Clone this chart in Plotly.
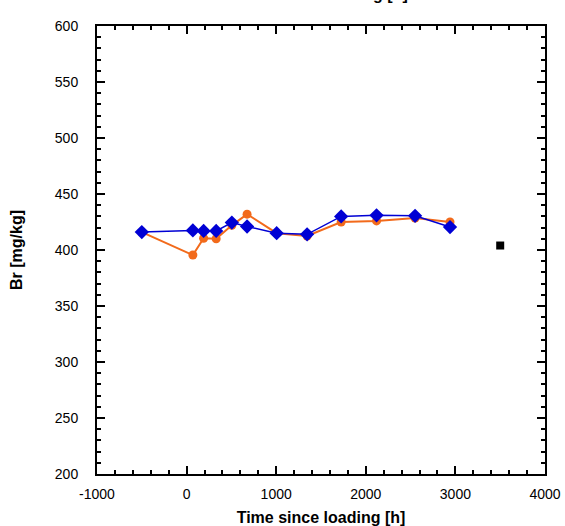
import plotly.graph_objects as go

# Data
blue_x = [-500, 70, 190, 330, 505, 675, 1005, 1345, 1725, 2120, 2550, 2940]
blue_y = [416, 417.5, 417, 417, 424.5, 421, 415, 414, 430, 431, 430.5, 420.5]

orange_x = [-500, 70, 190, 330, 505, 675, 1005, 1345, 1725, 2120, 2550, 2940]
orange_y = [416, 395.5, 410.5, 410, 422, 432, 415, 412.5, 425, 426, 428.5, 425]

black_x = [3500]
black_y = [404]

x_range = [-1000, 4000]
y_range = [200, 600]
x_ticks = [-1000, 0, 1000, 2000, 3000, 4000]
x_ticklabels = ["-1000", "0", "1000", "2000", "3000", "4000"]
x_title = "Time since loading [h]"
y_title = "Br [mg/kg]"

orange = "#F26A1B"
blue = "#0000D4"
FONT = "Liberation Sans, Arial, sans-serif"

fig = go.Figure()
fig.add_trace(go.Scatter(x=orange_x, y=orange_y, mode="lines+markers",
                         line=dict(color=orange, width=2),
                         marker=dict(symbol="circle", size=9, color=orange),
                         showlegend=False))
fig.add_trace(go.Scatter(x=blue_x, y=blue_y, mode="lines+markers",
                         line=dict(color=blue, width=1.5),
                         marker=dict(symbol="diamond", size=11, color=blue),
                         showlegend=False))
fig.add_trace(go.Scatter(x=black_x, y=black_y, mode="markers",
                         marker=dict(symbol="square", size=8, color="black"),
                         showlegend=False))

axis_common = dict(showgrid=False, zeroline=False, showline=True, linecolor="black",
                   linewidth=2, mirror="ticks", ticks="inside", ticklen=8, tickwidth=2,
                   tickcolor="black", automargin=False,
                   tickfont=dict(family=FONT, size=14, color="black"))

fig.update_xaxes(range=x_range, tickvals=x_ticks, ticktext=x_ticklabels,
                 minor=dict(ticks="inside", dtick=200, tick0=-1000, ticklen=4, tickwidth=1.5,
                            tickcolor="black"),
                 title=dict(text="<b>" + x_title + "</b>", standoff=12,
                            font=dict(family=FONT, size=16, color="black")),
                 ticklabelstandoff=6,
                 **axis_common)
fig.update_yaxes(range=y_range, dtick=50, tick0=200,
                 minor=dict(ticks="inside", dtick=10, ticklen=4, tickwidth=1.5, tickcolor="black"),
                 title=dict(text="<b>" + y_title + "</b>", standoff=28,
                            font=dict(family=FONT, size=16, color="black")),
                 ticklabelstandoff=14,
                 **axis_common)

fig.add_annotation(text="<b>loading [h]</b>", xref="paper", yref="paper",
                   x=(410 - 97) / 448, y=1 + (26 - 5) / 448, xanchor="right", yanchor="bottom",
                   showarrow=False,
                   font=dict(family=FONT, size=16, color="black"))

fig.update_layout(width=565, height=526, margin=dict(l=97, r=20, t=26, b=52),
                  plot_bgcolor="white", paper_bgcolor="white")

fig.write_html("out.html")
